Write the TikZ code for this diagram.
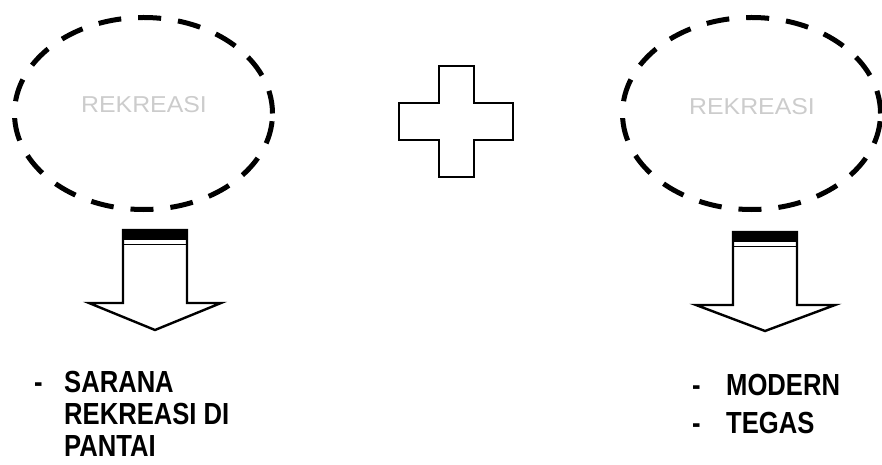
\documentclass[tikz,border=0pt]{standalone}
\usepackage{fontspec}
\setmainfont{Liberation Sans}
\usetikzlibrary{shapes.geometric}
\begin{document}
\begin{tikzpicture}[x=1pt,y=-1pt,
  dashell/.style={ellipse,draw,line width=5pt,dash pattern=on 23pt off 17pt,
    minimum width=258pt,minimum height=192pt,inner sep=0pt},
  faint/.style={inner sep=0pt,text=gray!40,font=\fontsize{23}{23}\selectfont,xscale=1.08},
  item/.style={anchor=base west,inner sep=0pt,font=\fontsize{30.5}{30.5}\selectfont\bfseries,xscale=0.84},
  outline/.style={draw,line width=2.4pt,line join=miter,fill=white},
  band/.style={fill=black}]
\useasboundingbox (0,0) rectangle (882,465);
% ellipses
\node[dashell] (e1) at (143.5,113.5) {};
\node[faint] (t1) at (144,105) {REKREASI};
\node[dashell] (e2) at (751.5,113.5) {};
\node[faint] (t2) at (752,107) {REKREASI};
% plus
\draw[line width=2pt,line join=miter] (439,66) -- (474,66) -- (474,103) -- (513,103) -- (513,140) -- (474,140)
  -- (474,177) -- (439,177) -- (439,140) -- (399,140) -- (399,103) -- (439,103) -- cycle;
% left arrow
\draw[outline] (123,230) -- (187,230) -- (187,303) -- (221,303) -- (155,330) -- (89,303) -- (123,303) -- cycle;
\fill[band] (121.8,228.8) rectangle (188.2,240);
\draw[line width=1.6pt] (123,244.5) -- (187,244.5);
% right arrow
\draw[outline] (733,232) -- (797,232) -- (797,305) -- (835,305) -- (765,331) -- (696,305) -- (733,305) -- cycle;
\fill[band] (731.8,230.8) rectangle (798.2,242);
\draw[line width=1.6pt] (733,246.5) -- (797,246.5);
% texts
\node[item] (d1) at (34,392) {-};
\node[item] (l1) at (64,392) {SARANA};
\node[item] (l2) at (64,424) {REKREASI DI};
\node[item] (l3) at (64,456) {PANTAI};
\node[item] (d2) at (692,395) {-};
\node[item] (r1) at (726,395) {MODERN};
\node[item] (d3) at (692,433) {-};
\node[item] (r2) at (726,433) {TEGAS};
\end{tikzpicture}
\end{document}
